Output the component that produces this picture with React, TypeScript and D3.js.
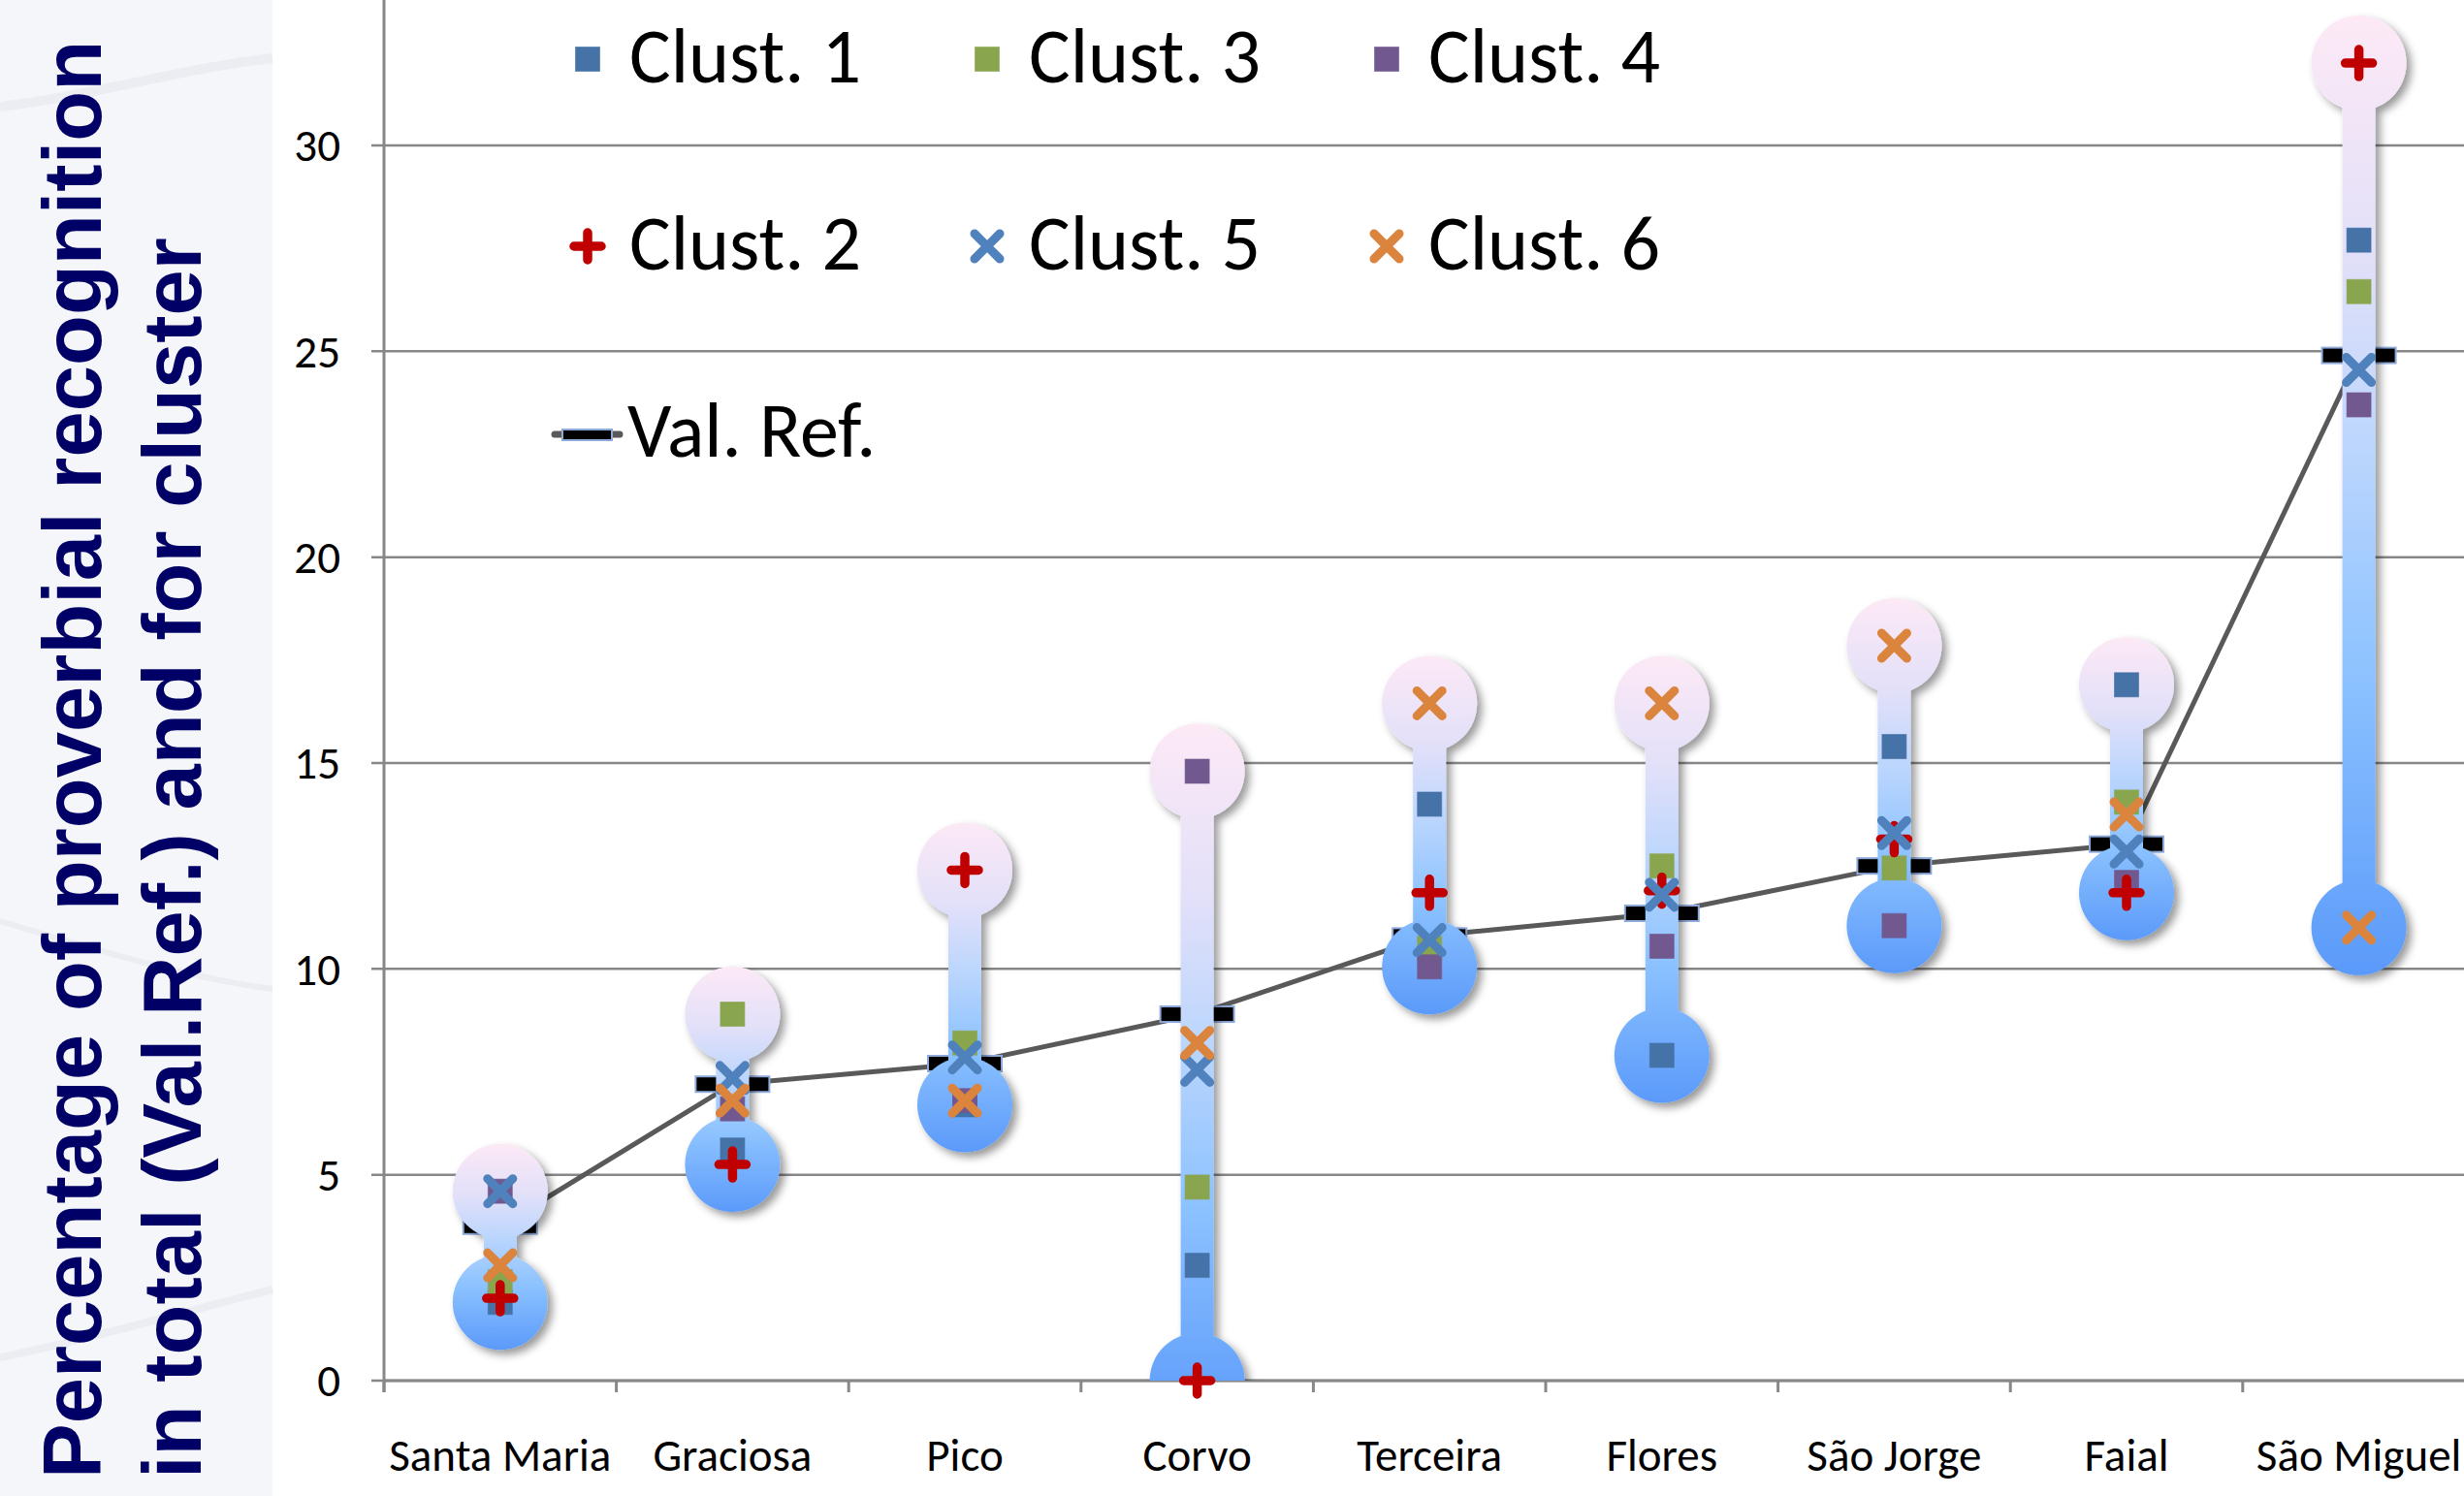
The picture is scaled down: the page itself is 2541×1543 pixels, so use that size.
import React from 'react';
import * as d3 from 'd3';

const categories = ['Santa Maria', 'Graciosa', 'Pico', 'Corvo', 'Terceira', 'Flores', 'São Jorge', 'Faial', 'São Miguel'];
const clust1 = [1.9, 5.6, 6.7, 2.8, 14.0, 7.9, 15.4, 16.9, 27.7];
const clust2 = [2.0, 5.25, 12.4, 0.0, 11.85, 11.9, 13.15, 11.85, 32.0];
const clust3 = [2.4, 8.9, 8.2, 4.7, 10.5, 12.5, 12.45, 14.05, 26.45];
const clust4 = [4.6, 6.6, 6.8, 14.8, 10.05, 10.55, 11.05, 12.1, 23.7];
const clust5 = [4.6, 7.35, 7.85, 7.55, 10.7, 11.8, 13.3, 12.85, 24.55];
const clust6 = [2.8, 6.8, 6.8, 8.2, 16.45, 16.45, 17.85, 13.75, 11.0];
const valRef = [3.75, 7.2, 7.7, 8.9, 10.8, 11.35, 12.5, 13.03, 24.9];
const yTicks = [0, 5, 10, 15, 20, 25, 30];

type Shape = 'square' | 'plus' | 'x';
const seriesDefs: { name: string; values: number[]; shape: Shape; color: string }[] = [
  { name: 'Clust. 1', values: clust1, shape: 'square', color: '#4572a7' },
  { name: 'Clust. 3', values: clust3, shape: 'square', color: '#89a54e' },
  { name: 'Clust. 4', values: clust4, shape: 'square', color: '#71588f' },
  { name: 'Clust. 2', values: clust2, shape: 'plus', color: '#c00000' },
  { name: 'Clust. 5', values: clust5, shape: 'x', color: '#4f81bd' },
  { name: 'Clust. 6', values: clust6, shape: 'x', color: '#db843d' },
];
const legendRows = [
  ['Clust. 1', 'Clust. 3', 'Clust. 4'],
  ['Clust. 2', 'Clust. 5', 'Clust. 6'],
];

const W = 2541;
const H = 1543;
const X0 = 396;
const STEP = 239.6;
const Y0 = 1424;
const Y30 = 150;
const FONT = 'Carlito, Calibri, Lato, sans-serif';

function Marker({ shape, color, cx, cy, big = true }: { shape: Shape; color: string; cx: number; cy: number; big?: boolean }) {
  if (shape === 'square') {
    const s = 25;
    return <rect x={cx - s / 2} y={cy - s / 2} width={s} height={s} fill={color} stroke={color} strokeOpacity={0.6} strokeWidth={1} />;
  }
  if (shape === 'plus') {
    const a = 14;
    return (
      <path d={`M${cx - a},${cy}H${cx + a}M${cx},${cy - a}V${cy + a}`} stroke={color} strokeWidth={9.5} strokeLinecap="round" fill="none" />
    );
  }
  const a = 13;
  return (
    <path d={`M${cx - a},${cy - a}L${cx + a},${cy + a}M${cx - a},${cy + a}L${cx + a},${cy - a}`} stroke={color} strokeWidth={9} strokeLinecap="round" fill="none" />
  );
}

export default function App() {
  const x = d3.scaleBand<string>().domain(categories).range([X0, X0 + STEP * categories.length]).padding(0);
  const y = d3.scaleLinear().domain([0, 30]).range([Y0, Y30]);
  const cx = (c: string) => (x(c) as number) + x.bandwidth() / 2;

  const R = 49;
  const BW = 34;
  const bars = categories.map((c, i) => {
    const vals = seriesDefs.map((s) => s.values[i]);
    const hi = d3.max(vals) as number;
    const lo = d3.min(vals) as number;
    return { c, i, hi, lo };
  });

  const line = d3
    .line<number>()
    .x((_, i) => cx(categories[i]))
    .y((d) => y(d));

  const boundaries = d3.range(categories.length + 1).map((i) => X0 + i * STEP);

  const legendColX = [606, 1018, 1430];
  const legendRowY = [61, 254];

  return (
    <svg width={W} height={H} style={{ position: 'absolute', left: 0, top: 0, background: '#fff' }} xmlns="http://www.w3.org/2000/svg">
      <defs>
        <filter id="shadow" x="-50%" y="-20%" width="200%" height="140%">
          <feDropShadow dx="5" dy="5" stdDeviation="4" floodColor="#000" floodOpacity="0.4" />
        </filter>
        <clipPath id="plotClip">
          <rect x={X0} y={0} width={W - X0} height={Y0} />
        </clipPath>
        {bars.map((b) => (
          <linearGradient key={b.c} id={`grad${b.i}`} gradientUnits="userSpaceOnUse" x1={0} x2={0} y1={y(b.hi) - R} y2={y(b.lo) + R}>
            <stop offset="0" stopColor="#fde9f6" />
            <stop offset="0.25" stopColor="#e2e0f9" />
            <stop offset="0.45" stopColor="#bcd6fd" />
            <stop offset="0.68" stopColor="#8dc3ff" />
            <stop offset="1" stopColor="#5b9afa" />
          </linearGradient>
        ))}
      </defs>

      {/* left title panel */}
      <rect x={0} y={0} width={281} height={H} fill="#f5f6fa" />
      <path d="M0,110 C90,100 190,70 281,60" stroke="#ececf3" strokeWidth={10} fill="none" />
      <path d="M0,1400 C100,1380 200,1350 281,1330" stroke="#ececf3" strokeWidth={8} fill="none" />
      <path d="M0,950 C100,980 200,1010 281,1020" stroke="#ececf3" strokeWidth={6} fill="none" />
      <g fontFamily="'Liberation Sans', Arial, sans-serif" fontWeight="bold" fontSize={85} fill="#000066">
        <text transform="translate(104,1525) rotate(-90)">Percentage of proverbial recognition</text>
        <text transform="translate(207,1525) rotate(-90)">in total (Val.Ref.) and for cluster</text>
      </g>

      {/* gridlines */}
      {yTicks.map((t) => (
        <line key={t} x1={383} x2={W} y1={y(t)} y2={y(t)} stroke="#878787" strokeWidth={2.5} />
      ))}
      {/* y axis */}
      <line x1={X0} x2={X0} y1={0} y2={Y0 + 12} stroke="#878787" strokeWidth={3} />
      {yTicks.map((t) => (
        <text key={t} x={351} y={y(t)} dy="0.35em" textAnchor="end" fontFamily={FONT} fontSize={47} fill="#000">
          {t}
        </text>
      ))}
      {/* x axis */}
      <line x1={X0} x2={W} y1={Y0} y2={Y0} stroke="#878787" strokeWidth={3} />
      {boundaries.map((bx, i) => (
        <line key={i} x1={bx} x2={bx} y1={Y0} y2={Y0 + 12} stroke="#878787" strokeWidth={3} />
      ))}
      {categories.map((c) => (
        <text key={c} x={cx(c)} y={1517} textAnchor="middle" fontFamily={FONT} fontSize={47} fill="#000">
          {c}
        </text>
      ))}

      <g clipPath="url(#plotClip)">
        {/* Val. Ref. line and dash markers */}
        <path d={line(valRef) as string} stroke="#595959" strokeWidth={5} fill="none" strokeLinejoin="round" />
        {valRef.map((v, i) => (
          <rect key={i} x={cx(categories[i]) - 38} y={y(v) - 8} width={76} height={16} fill="#000" stroke="#8eaadb" strokeWidth={2} />
        ))}
        {/* high-low bars */}
        {bars.map((b) => {
          const xc = cx(b.c);
          const yh = y(b.hi);
          const yl = y(b.lo);
          return (
            <g key={b.c} filter="url(#shadow)" fill={`url(#grad${b.i})`}>
              <rect x={xc - BW / 2} y={yh} width={BW} height={yl - yh} />
              <circle cx={xc} cy={yh} r={R} />
              <circle cx={xc} cy={yl} r={R} />
            </g>
          );
        })}
      </g>

      {/* cluster markers */}
      {seriesDefs.map((s) => (
        <g key={s.name}>
          {s.values.map((v, i) => (
            <Marker key={i} shape={s.shape} color={s.color} cx={cx(categories[i])} cy={y(v)} />
          ))}
        </g>
      ))}

      {/* legend */}
      {legendRows.map((row, ri) =>
        row.map((name, ci) => {
          const s = seriesDefs.find((d) => d.name === name)!;
          return (
            <g key={name}>
              <Marker shape={s.shape} color={s.color} cx={legendColX[ci]} cy={legendRowY[ri]} />
              <text x={legendColX[ci] + 43} y={legendRowY[ri] + 24} fontFamily={FONT} fontSize={80} fill="#000">
                {name}
              </text>
            </g>
          );
        })
      )}
      <g>
        <line x1={572} x2={639} y1={448} y2={448} stroke="#595959" strokeWidth={7} strokeLinecap="round" />
        <rect x={580} y={443} width={51} height={11} fill="#000" stroke="#8eaadb" strokeWidth={2} />
        <text x={647} y={471} fontFamily={FONT} fontSize={80} fill="#000">
          Val. Ref.
        </text>
      </g>
    </svg>
  );
}
